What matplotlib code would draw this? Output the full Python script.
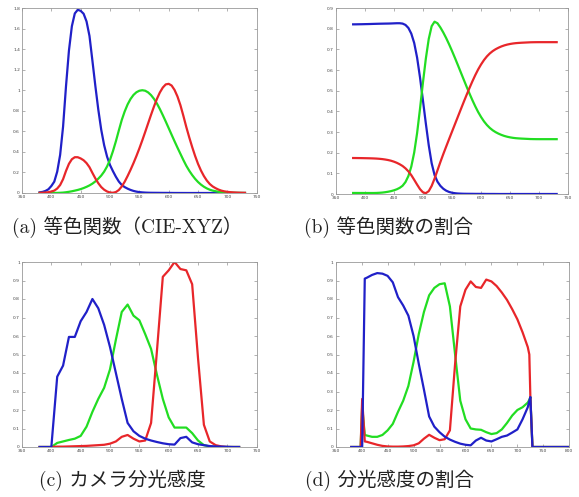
import matplotlib
matplotlib.use("Agg")
import matplotlib.pyplot as plt

# (a) CIE 1931 colour matching functions, 5 nm steps
wl_a = list(range(380, 735, 5))
xbar = [0.0014, 0.0022, 0.0042, 0.0077, 0.0143, 0.0232, 0.0435, 0.0776, 0.1344, 0.2148,
        0.2839, 0.3285, 0.3483, 0.3481, 0.3362, 0.3187, 0.2908, 0.2511, 0.1954, 0.1421,
        0.0956, 0.0580, 0.0320, 0.0147, 0.0049, 0.0024, 0.0093, 0.0291, 0.0633, 0.1096,
        0.1655, 0.2258, 0.2904, 0.3597, 0.4334, 0.5121, 0.5945, 0.6784, 0.7621, 0.8425,
        0.9163, 0.9786, 1.0263, 1.0567, 1.0622, 1.0456, 1.0026, 0.9384, 0.8544, 0.7514,
        0.6424, 0.5419, 0.4479, 0.3608, 0.2835, 0.2187, 0.1649, 0.1212, 0.0874, 0.0636,
        0.0468, 0.0329, 0.0227, 0.0158, 0.0114, 0.0081, 0.0058, 0.0041, 0.0029, 0.0020,
        0.0014]
ybar = [0.0000, 0.0001, 0.0001, 0.0002, 0.0004, 0.0006, 0.0012, 0.0022, 0.0040, 0.0073,
        0.0116, 0.0168, 0.0230, 0.0298, 0.0380, 0.0480, 0.0600, 0.0739, 0.0910, 0.1126,
        0.1390, 0.1693, 0.2080, 0.2586, 0.3230, 0.4073, 0.5030, 0.6082, 0.7100, 0.7932,
        0.8620, 0.9149, 0.9540, 0.9803, 0.9950, 1.0000, 0.9950, 0.9786, 0.9520, 0.9154,
        0.8700, 0.8163, 0.7570, 0.6949, 0.6310, 0.5668, 0.5030, 0.4412, 0.3810, 0.3210,
        0.2650, 0.2170, 0.1750, 0.1382, 0.1070, 0.0816, 0.0610, 0.0446, 0.0320, 0.0232,
        0.0170, 0.0119, 0.0082, 0.0057, 0.0041, 0.0029, 0.0021, 0.0015, 0.0010, 0.0007,
        0.0005]
zbar = [0.0065, 0.0106, 0.0201, 0.0362, 0.0679, 0.1102, 0.2074, 0.3713, 0.6456, 1.0391,
        1.3856, 1.6230, 1.7471, 1.7826, 1.7721, 1.7441, 1.6692, 1.5281, 1.2876, 1.0419,
        0.8130, 0.6162, 0.4652, 0.3533, 0.2720, 0.2123, 0.1582, 0.1117, 0.0783, 0.0573,
        0.0422, 0.0298, 0.0203, 0.0134, 0.0088, 0.0058, 0.0039, 0.0028, 0.0021, 0.0018,
        0.0017, 0.0014, 0.0011, 0.0010, 0.0008, 0.0006, 0.0003, 0.0002, 0.0002, 0.0001,
        0.0000, 0.0000, 0.0000, 0.0000, 0.0000, 0.0000, 0.0000, 0.0000, 0.0000, 0.0000,
        0.0000, 0.0000, 0.0000, 0.0000, 0.0000, 0.0000, 0.0000, 0.0000, 0.0000, 0.0000,
        0.0000]

# (b) ratio of the colour matching functions
wl_b = wl_a
r_b = [0.1741, 0.1740, 0.1738, 0.1736, 0.1733, 0.1730, 0.1726, 0.1721, 0.1714, 0.1703,
       0.1689, 0.1669, 0.1644, 0.1611, 0.1566, 0.1510, 0.1440, 0.1355, 0.1241, 0.1096,
       0.0913, 0.0687, 0.0454, 0.0235, 0.0082, 0.0039, 0.0139, 0.0389, 0.0743, 0.1142,
       0.1547, 0.1929, 0.2296, 0.2658, 0.3016, 0.3374, 0.3731, 0.4087, 0.4441, 0.4788,
       0.5125, 0.5448, 0.5752, 0.6029, 0.6270, 0.6482, 0.6658, 0.6801, 0.6915, 0.7006,
       0.7079, 0.7141, 0.7191, 0.7230, 0.7260, 0.7283, 0.7300, 0.7311, 0.7320, 0.7327,
       0.7334, 0.7341, 0.7344, 0.7346, 0.7347, 0.7347, 0.7347, 0.7347, 0.7347, 0.7347,
       0.7347]
g_b = [0.0050, 0.0050, 0.0049, 0.0049, 0.0048, 0.0048, 0.0048, 0.0048, 0.0051, 0.0058,
       0.0069, 0.0086, 0.0109, 0.0138, 0.0177, 0.0227, 0.0297, 0.0399, 0.0578, 0.0868,
       0.1327, 0.2007, 0.2950, 0.4127, 0.5384, 0.6548, 0.7502, 0.8120, 0.8338, 0.8262,
       0.8059, 0.7816, 0.7543, 0.7243, 0.6923, 0.6589, 0.6245, 0.5896, 0.5547, 0.5202,
       0.4866, 0.4544, 0.4242, 0.3965, 0.3725, 0.3514, 0.3340, 0.3197, 0.3083, 0.2993,
       0.2920, 0.2859, 0.2809, 0.2770, 0.2740, 0.2717, 0.2700, 0.2689, 0.2680, 0.2673,
       0.2666, 0.2659, 0.2656, 0.2654, 0.2653, 0.2653, 0.2653, 0.2653, 0.2653, 0.2653,
       0.2653]
b_b = [0.8209, 0.8210, 0.8213, 0.8215, 0.8219, 0.8222, 0.8226, 0.8231, 0.8235, 0.8239,
       0.8242, 0.8245, 0.8247, 0.8251, 0.8257, 0.8263, 0.8263, 0.8246, 0.8181, 0.8036,
       0.7760, 0.7306, 0.6596, 0.5638, 0.4534, 0.3413, 0.2359, 0.1491, 0.0919, 0.0596,
       0.0394, 0.0255, 0.0161, 0.0099, 0.0061, 0.0038, 0.0024, 0.0017, 0.0012, 0.0010,
       0.0009, 0.0008, 0.0006, 0.0006, 0.0005, 0.0004, 0.0002, 0.0002, 0.0002, 0.0001,
       0.0000, 0.0000, 0.0000, 0.0000, 0.0000, 0.0000, 0.0000, 0.0000, 0.0000, 0.0000,
       0.0000, 0.0000, 0.0000, 0.0000, 0.0000, 0.0000, 0.0000, 0.0000, 0.0000, 0.0000,
       0.0000]

# (c) camera spectral sensitivity
wl_c = list(range(380, 730, 10))
r_c = [0, 0, 0, 0.002, 0.002, 0.003, 0.004, 0.005, 0.006, 0.008,
       0.010, 0.012, 0.018, 0.030, 0.055, 0.065, 0.045, 0.030, 0.035, 0.130,
       0.520, 0.920, 0.955, 1.000, 0.962, 0.955, 0.880, 0.480, 0.120, 0.030,
       0.010, 0.003, 0, 0, 0]
g_c = [0, 0, 0, 0.022, 0.030, 0.038, 0.045, 0.060, 0.110, 0.190,
       0.260, 0.320, 0.420, 0.580, 0.730, 0.770, 0.710, 0.685, 0.610, 0.530,
       0.390, 0.260, 0.160, 0.105, 0.105, 0.105, 0.075, 0.035, 0.010, 0.003,
       0, 0, 0, 0, 0]
b_c = [0, 0, 0, 0.380, 0.440, 0.595, 0.595, 0.680, 0.730, 0.800,
       0.750, 0.660, 0.540, 0.400, 0.260, 0.130, 0.085, 0.060, 0.045, 0.035,
       0.027, 0.020, 0.015, 0.013, 0.048, 0.055, 0.025, 0.015, 0.010, 0.005,
       0.003, 0.002, 0.001, 0, 0]

# (d) ratio of the spectral sensitivities
wl_d = [380, 390, 398, 401, 406, 410, 420, 430, 440, 450, 460, 470, 480, 490, 500,
        510, 520, 530, 540, 550, 560, 570, 580, 590, 600, 610, 620, 630, 640, 650,
        660, 670, 680, 690, 700, 710, 720, 723, 725, 729, 800]
r_d = [0, 0, 0, 0.260, 0.030, 0.028, 0.020, 0.012, 0.006, 0.003, 0.002, 0.002, 0.003,
       0.005, 0.009, 0.020, 0.045, 0.066, 0.050, 0.037, 0.042, 0.090, 0.450, 0.760,
       0.850, 0.895, 0.865, 0.860, 0.905, 0.895, 0.870, 0.835, 0.795, 0.745, 0.690,
       0.620, 0.540, 0.500, 0.270, 0, 0]
g_d = [0, 0, 0, 0.220, 0.065, 0.062, 0.055, 0.055, 0.065, 0.090, 0.125, 0.190, 0.250,
       0.330, 0.460, 0.610, 0.730, 0.820, 0.860, 0.880, 0.885, 0.760, 0.500, 0.250,
       0.150, 0.100, 0.095, 0.093, 0.080, 0.070, 0.075, 0.095, 0.130, 0.170, 0.200,
       0.215, 0.240, 0.255, 0.270, 0, 0]
b_d = [0, 0, 0, 0, 0.910, 0.915, 0.930, 0.940, 0.937, 0.925, 0.890, 0.810, 0.765,
       0.710, 0.600, 0.450, 0.310, 0.165, 0.110, 0.080, 0.056, 0.040, 0.028, 0.018,
       0.012, 0.009, 0.035, 0.050, 0.035, 0.030, 0.042, 0.055, 0.062, 0.078, 0.095,
       0.150, 0.215, 0.250, 0.270, 0, 0]

captions = ["(a) 等色関数（CIE-XYZ）", "(b) 等色関数の割合",
            "(c) カメラ分光感度", "(d) 分光感度の割合"]

RED, GREEN, BLUE = "#e8262a", "#22dd22", "#2020c8"

fig = plt.figure(figsize=(5.79, 4.97), dpi=100)
W, H = 579.0, 497.0


def make_axes(left, right, top, bottom):
    return fig.add_axes([left / W, 1 - bottom / H, (right - left) / W, (bottom - top) / H])


def style(ax, xlim, ylim, yticks, ylabels, xticks):
    ax.set_xlim(*xlim)
    ax.set_ylim(*ylim)
    ax.set_xticks(xticks)
    ax.set_xticklabels([str(t) for t in xticks])
    ax.set_yticks(yticks)
    ax.set_yticklabels(ylabels)
    ax.tick_params(direction="in", length=2, width=0.4, colors="#777777",
                   labelsize=3.2, labelcolor="#444444", pad=1.5,
                   top=True, right=True)
    for s in ax.spines.values():
        s.set_color("#999999")
        s.set_linewidth(0.6)


lw = 1.6
xt_a = list(range(350, 751, 50))

ax = make_axes(22, 256.7, 8, 193)
ax.plot(wl_a, zbar, color=BLUE, lw=lw)
ax.plot(wl_a, ybar, color=GREEN, lw=lw)
ax.plot(wl_a, xbar, color=RED, lw=lw)
ya = [i * 0.2 for i in range(10)]
style(ax, (350, 750), (0, 1.8), ya,
      ["0", "0.2", "0.4", "0.6", "0.8", "1", "1.2", "1.4", "1.6", "1.8"], xt_a)

ax = make_axes(335.7, 568.3, 8, 194)
ax.plot(wl_b, b_b, color=BLUE, lw=lw)
ax.plot(wl_b, g_b, color=GREEN, lw=lw)
ax.plot(wl_b, r_b, color=RED, lw=lw)
yb = [i * 0.1 for i in range(10)]
style(ax, (350, 750), (0, 0.9), yb,
      ["0", "0.1", "0.2", "0.3", "0.4", "0.5", "0.6", "0.7", "0.8", "0.9"], xt_a)

yc = [i * 0.1 for i in range(11)]
yc_lab = ["0", "0.1", "0.2", "0.3", "0.4", "0.5", "0.6", "0.7", "0.8", "0.9", "1"]

ax = make_axes(22, 256.7, 262, 447)
ax.plot(wl_c, g_c, color=GREEN, lw=lw)
ax.plot(wl_c, r_c, color=RED, lw=lw)
ax.plot(wl_c, b_c, color=BLUE, lw=lw)
style(ax, (350, 750), (0, 1), yc, yc_lab, xt_a)

ax = make_axes(335.7, 569.3, 262, 447)
ax.plot(wl_d, g_d, color=GREEN, lw=lw)
ax.plot(wl_d, r_d, color=RED, lw=lw)
ax.plot(wl_d, b_d, color=BLUE, lw=lw)
style(ax, (350, 800), (0, 1), yc, yc_lab, list(range(350, 801, 50)))

cap_font = ["cmr10", "Noto Sans CJK JP"]
for (x, y), txt in zip([(127, 227), (389, 227), (122, 480), (390, 480)], captions):
    fig.text(x / W, 1 - y / H, txt, ha="center", va="center", fontsize=14,
             family=cap_font, color="#222222")

fig.savefig("out.png", dpi=100)
